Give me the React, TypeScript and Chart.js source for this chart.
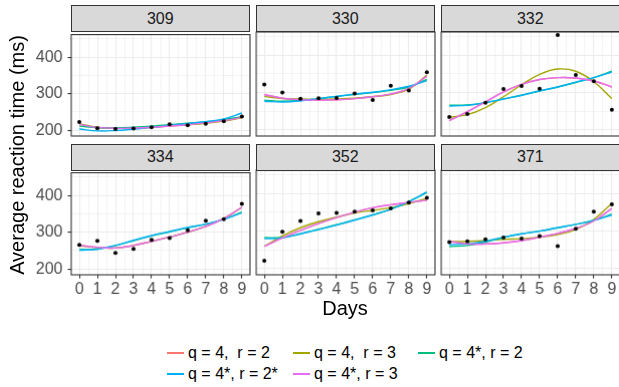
import React, { useEffect, useRef } from "react";
import { Chart, registerables } from "chart.js";

Chart.register(...registerables);

// ---------------- data ----------------
const days = [0, 1, 2, 3, 4, 5, 6, 7, 8, 9];
const subjects = ["309", "330", "332", "334", "352", "371"];

const obs309 = [222.7, 205.3, 203.0, 204.7, 207.7, 216.0, 213.6, 217.7, 224.3, 237.3];
const obs330 = [321.5, 300.4, 283.9, 285.1, 285.8, 297.6, 280.2, 318.3, 305.4, 354.1];
const obs332 = [234.9, 242.8, 273.0, 309.8, 317.5, 310.0, 454.2, 346.8, 330.3, 253.9];
const obs334 = [265.5, 276.2, 243.4, 254.7, 279.0, 284.2, 305.5, 331.5, 335.8, 377.3];
const obs352 = [221.7, 298.2, 326.9, 346.9, 348.7, 351.9, 355.4, 360.6, 375.9, 388.5];
const obs371 = [271, 273, 278, 283, 280, 287, 260, 306, 352, 371];
const observed = [obs309, obs330, obs332, obs334, obs352, obs371];

// fitted curves, one array per subject, in subject order
const fitQ4R2 = [
  [216, 207.5, 205, 206, 208, 211.5, 215, 220, 226, 235],
  [295, 285, 281, 280, 281, 284, 289, 296, 311, 344],
  [225, 249, 275, 302, 322, 335, 340, 339, 331, 315],
  [264, 259, 257, 264, 275, 287, 300, 316, 337, 368],
  [260, 282, 302, 320, 336, 350, 362, 370, 376, 382],
  [273, 266, 266, 269, 275, 284, 294, 307, 327, 360],
];
const fitQ4R3 = [
  [217, 208, 205, 206, 208, 212, 215, 219, 225, 234],
  [290, 284, 283, 282, 283, 285, 289, 295, 309, 347],
  [234, 241, 260, 289, 321, 349, 363, 357, 329, 284],
  [263, 258, 257, 264, 275, 287, 300, 316, 338, 367],
  [260, 287, 309, 325, 337, 348, 355, 362, 373, 387],
  [272, 273, 275, 278, 280, 284, 291, 304, 331, 374],
];
const fitQ4sR2 = [
  [211, 207, 206, 208, 211, 215, 219, 223, 229, 237],
  [280, 277, 279, 284, 290, 295, 300, 306, 315, 335],
  [266, 267, 273, 283, 293, 304, 315, 327, 340, 357],
  [253, 254, 264, 277, 290, 301, 312, 322, 335, 355],
  [283, 283, 293, 305, 317, 330, 343, 358, 379, 402],
  [259, 262, 271, 283, 293, 300, 309, 318, 329, 345],
];
const fitQ4sR2s = [
  [203, 198, 199, 203, 208, 213, 218, 223, 231, 247],
  [277, 275, 278, 284, 290, 296, 301, 308, 317, 332],
  [264, 266, 273, 283, 293, 305, 315, 328, 340, 355],
  [251, 254, 264, 278, 291, 302, 313, 322, 335, 353],
  [280, 282, 293, 304, 316, 329, 343, 358, 378, 404],
  [264, 266, 273, 284, 293, 300, 309, 318, 328, 343],
];
const fitQ4sR3 = [
  [216, 207.5, 205, 206, 208, 211.5, 215, 220, 226, 235],
  [295, 285, 281, 280, 281, 284, 289, 296, 311, 344],
  [225, 249, 275, 302, 322, 335, 340, 339, 331, 315],
  [264, 259, 257, 264, 275, 287, 300, 316, 337, 368],
  [260, 282, 302, 320, 336, 350, 362, 370, 376, 382],
  [273, 266, 266, 269, 275, 284, 294, 307, 327, 360],
];

const modelLabels = ["q = 4,  r = 2", "q = 4,  r = 3", "q = 4*, r = 2", "q = 4*, r = 2*", "q = 4*, r = 3"];
const modelColors = ["#F8766D", "#A3A500", "#00BF7D", "#00B0F6", "#E76BF3"];
const fits = [fitQ4R2, fitQ4R3, fitQ4sR2, fitQ4sR2s, fitQ4sR3];

const xGridValues = [0, 0.5, 1, 1.5, 2, 2.5, 3, 3.5, 4, 4.5, 5, 5.5, 6, 6.5, 7, 7.5, 8, 8.5, 9];
const yGridValues = [200, 250, 300, 350, 400, 450];
const yMajor = [200, 300, 400];

// ---------------- layout ----------------
const FONT = '"Liberation Sans", Arial, Helvetica, sans-serif';
const COL_LEFT = [71, 256, 441];
const PANEL_W = 178.5;
const ROW_TOP = [31.5, 170];
const PANEL_H = 104.5;
const STRIP_H = 26.5;
const Y_AXIS_W = 41;
const X_AXIS_H = 25;
const PADL = 45, PADR = 10, PADT = 12, PADB = 30;

const borderPlugin = {
  id: "panelBorder",
  afterDraw(chart: any) {
    const { ctx, chartArea: a } = chart;
    ctx.save();
    ctx.strokeStyle = "#333333";
    ctx.lineWidth = 1.1;
    ctx.strokeRect(a.left, a.top, a.right - a.left, a.bottom - a.top);
    ctx.restore();
  },
};

function Panel({ idx, col, row }: { idx: number; col: number; row: number }) {
  const ref = useRef<HTMLCanvasElement>(null);
  const showY = col === 0;
  const showX = row === 1;
  const W = PADL + PANEL_W + PADR;
  const H = PADT + PANEL_H + PADB;
  const left = COL_LEFT[col] - PADL;
  const top = ROW_TOP[row] - PADT;

  useEffect(() => {
    if (!ref.current) return;
    const lineSets = fits.map((f, m) => ({
      type: "line",
      label: modelLabels[m],
      data: days.map((d, i) => ({ x: d, y: f[idx][i] })),
      borderColor: modelColors[m],
      backgroundColor: modelColors[m],
      borderWidth: 1.4,
      pointRadius: 0,
      tension: 0.4,
      fill: false,
      order: 5 - m,
    }));
    const pointSet = {
      type: "scatter",
      label: "observed",
      data: days.map((d, i) => ({ x: d, y: observed[idx][i] })),
      backgroundColor: "#000000",
      borderColor: "#000000",
      pointRadius: 2,
      borderWidth: 0,
      showLine: false,
      order: 0,
    };
    const chart = new Chart(ref.current, {
      type: "line",
      data: { datasets: [...lineSets, pointSet] as any },
      options: {
        animation: false,
        responsive: false,
        maintainAspectRatio: false,
        devicePixelRatio: 1,
        layout: {
          padding: {
            left: PADL - (showY ? Y_AXIS_W : 0),
            right: PADR,
            top: PADT,
            bottom: PADB - (showX ? X_AXIS_H : 0),
          },
        },
        plugins: { legend: { display: false }, tooltip: { enabled: false }, title: { display: false } },
        scales: {
          x: {
            type: "linear",
            min: -0.45,
            max: 9.45,
            afterBuildTicks: (s: any) => {
              s.ticks = xGridValues.map((v) => ({ value: v }));
            },
            afterFit: (s: any) => {
              s.height = showX ? X_AXIS_H : 0;
            },
            border: { display: false },
            grid: {
              color: "#EBEBEB",
              lineWidth: (c: any) => (c.tick && Number.isInteger(c.tick.value) ? 1.1 : 0.6),
              drawTicks: showX,
              tickLength: 3.5,
              tickWidth: 1.1,
              tickColor: (c: any) => (c.tick && Number.isInteger(c.tick.value) ? "#333333" : "rgba(0,0,0,0)"),
            },
            ticks: {
              display: showX,
              autoSkip: false,
              maxRotation: 0,
              minRotation: 0,
              padding: 1,
              color: "#4D4D4D",
              font: { family: FONT, size: 16 },
              callback: (v: any) => (Number.isInteger(v) ? String(v) : ""),
            },
          },
          y: {
            type: "linear",
            min: 184,
            max: 462,
            afterBuildTicks: (s: any) => {
              s.ticks = yGridValues.map((v) => ({ value: v }));
            },
            afterFit: (s: any) => {
              s.width = showY ? Y_AXIS_W : 0;
            },
            border: { display: false },
            grid: {
              color: "#EBEBEB",
              lineWidth: (c: any) => (c.tick && yMajor.includes(c.tick.value) ? 1.1 : 0.6),
              drawTicks: showY,
              tickLength: 3.5,
              tickWidth: 1.1,
              tickColor: (c: any) => (c.tick && yMajor.includes(c.tick.value) ? "#333333" : "rgba(0,0,0,0)"),
            },
            ticks: {
              display: showY,
              autoSkip: false,
              padding: 5,
              color: "#4D4D4D",
              font: { family: FONT, size: 16 },
              callback: (v: any) => (yMajor.includes(v) ? String(v) : ""),
            },
          },
        },
      } as any,
      plugins: [borderPlugin],
    });
    return () => chart.destroy();
  }, [idx, col, row]);

  return (
    <>
      <canvas
        ref={ref}
        width={W}
        height={H}
        style={{ position: "absolute", left, top, width: W, height: H }}
      />
      <div
        style={{
          position: "absolute",
          left: COL_LEFT[col],
          top: ROW_TOP[row] - STRIP_H,
          width: PANEL_W,
          height: STRIP_H + 0.5,
          boxSizing: "border-box",
          background: "#D9D9D9",
          border: "1.1px solid #333333",
          display: "flex",
          alignItems: "center",
          justifyContent: "center",
          fontFamily: FONT,
          fontSize: 16,
          color: "#1A1A1A",
        }}
      >
        {subjects[idx]}
      </div>
    </>
  );
}

const legendRows = [
  [
    { m: 0, x: 167 },
    { m: 1, x: 293 },
    { m: 2, x: 418 },
  ],
  [
    { m: 3, x: 167 },
    { m: 4, x: 293 },
  ],
];
const legendRowY = [353, 374];

export default function App() {
  return (
    <div
      style={{
        position: "fixed",
        left: 0,
        top: 0,
        width: 619,
        height: 387,
        overflow: "hidden",
        background: "#FFFFFF",
        fontFamily: FONT,
      }}
    >
      {subjects.map((s, i) => (
        <Panel key={s} idx={i} col={i % 3} row={Math.floor(i / 3)} />
      ))}
      <div
        style={{
          position: "absolute",
          left: 17 - 160,
          top: 155 - 12,
          width: 320,
          height: 24,
          lineHeight: "24px",
          textAlign: "center",
          fontSize: 20,
          color: "#000000",
          transform: "rotate(-90deg)",
          whiteSpace: "nowrap",
        }}
      >
        Average reaction time (ms)
      </div>
      <div
        style={{
          position: "absolute",
          left: 345 - 50,
          top: 297.5,
          width: 100,
          height: 20,
          lineHeight: "20px",
          textAlign: "center",
          fontSize: 20,
          color: "#000000",
        }}
      >
        Days
      </div>
      {legendRows.map((r, ri) =>
        r.map((it) => (
          <div key={it.m}>
            <div
              style={{
                position: "absolute",
                left: it.x,
                top: legendRowY[ri] - 0.7,
                width: 17,
                height: 1.4,
                background: modelColors[it.m],
              }}
            />
            <div
              style={{
                position: "absolute",
                left: it.x + 21,
                top: legendRowY[ri] - 10,
                height: 20,
                lineHeight: "20px",
                fontSize: 16,
                color: "#000000",
                whiteSpace: "pre",
              }}
            >
              {modelLabels[it.m]}
            </div>
          </div>
        ))
      )}
    </div>
  );
}
